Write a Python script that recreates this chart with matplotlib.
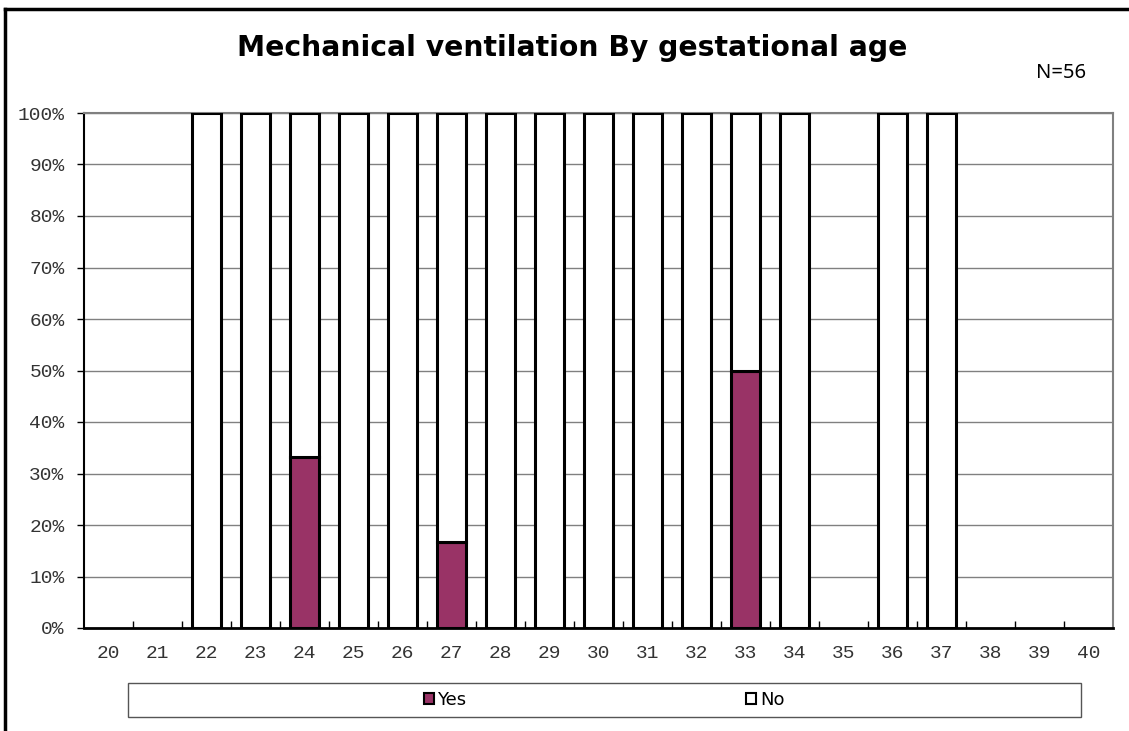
import numpy as np
import matplotlib
matplotlib.use("Agg")
import matplotlib.pyplot as plt
from matplotlib.patches import Patch, Rectangle
from matplotlib.lines import Line2D
from matplotlib.ticker import FuncFormatter, FixedLocator

# --- data (percent of infants per gestational week) ---
ages = [str(a) for a in range(20, 41)]
yes_pct = [0, 0, 0, 0, 33.3, 0, 0, 16.7, 0, 0, 0, 0, 0, 50, 0, 0, 0, 0, 0, 0, 0]
no_pct = [0, 0, 100, 100, 66.7, 100, 100, 83.3, 100, 100, 100, 100, 100, 50, 100, 0, 100, 100, 0, 0, 0]
y_ticks = list(range(0, 101, 10))

YES_COL = "#993366"
MONO = "Liberation Mono"

fig = plt.figure(figsize=(11.29, 7.31), dpi=100)
ax = fig.add_axes([84 / 1129, 1 - 628 / 731, (1113 - 84) / 1129, (628 - 113) / 731])

x = np.arange(len(ages))
yes = np.array(yes_pct, dtype=float)
no = np.array(no_pct, dtype=float)
has = (yes + no) > 0

ax.bar(x[has & (yes > 0)], yes[has & (yes > 0)], width=0.6, color=YES_COL,
       edgecolor="black", linewidth=2.2, zorder=3)
ax.bar(x[has], no[has], bottom=yes[has], width=0.6, color="white",
       edgecolor="black", linewidth=2.2, zorder=3)

ax.set_xlim(-0.5, len(ages) - 0.5)
ax.set_ylim(0, 100)
ax.set_yticks(y_ticks)
ax.yaxis.set_major_formatter(FuncFormatter(lambda v, p: "%d%%" % v))
ax.set_xticks(x)
ax.set_xticklabels(ages)
ax.xaxis.set_minor_locator(FixedLocator(x[:-1] + 0.5))

for lab in ax.get_xticklabels() + ax.get_yticklabels():
    lab.set_fontfamily(MONO)
    lab.set_fontsize(14)
    lab.set_color("#333333")

ax.tick_params(axis="y", direction="out", length=5, width=1, pad=9)
ax.tick_params(axis="x", which="major", length=0, pad=12)
ax.tick_params(axis="x", which="minor", direction="in", length=5, width=1)

ax.grid(axis="y", color="#808080", linewidth=1, zorder=0)
ax.set_axisbelow(True)
for s in ["top", "right"]:
    ax.spines[s].set_color("#808080")
    ax.spines[s].set_linewidth(1.5)
ax.spines["left"].set_color("black")
ax.spines["left"].set_linewidth(1.5)
ax.spines["bottom"].set_color("black")
ax.spines["bottom"].set_linewidth(2)
ax.spines["bottom"].set_zorder(4)

fig.text(572 / 1129, 1 - 48 / 731, "Mechanical ventilation By gestational age",
         ha="center", va="center", fontsize=20.3, fontweight="bold",
         family="DejaVu Sans")
fig.text(1061 / 1129, 1 - 73 / 731, "N=56", ha="center", va="center",
         fontsize=14.5, family="Noto Sans")

# legend box
fig.patches.append(Rectangle((128 / 1129, 1 - 717 / 731), (1081 - 128) / 1129, 34 / 731,
                             transform=fig.transFigure, facecolor="white",
                             edgecolor="#555555", linewidth=1))
handles = [Patch(facecolor=YES_COL, edgecolor="black", linewidth=1.5),
           Patch(facecolor="white", edgecolor="black", linewidth=1.5)]
fig.legend(handles, ["Yes", "No"], loc="center", bbox_to_anchor=(604 / 1129, 1 - 700 / 731),
           ncol=2, frameon=False, handlelength=0.55, handleheight=0.55,
           handletextpad=0.2, columnspacing=15.5, prop={"family": "DejaVu Sans", "size": 13})

# outer chart border (left and top only visible)
fig.add_artist(Line2D([5 / 1129, 5 / 1129], [0, 1 - 9 / 731], color="black", linewidth=2.5,
                      transform=fig.transFigure))
fig.add_artist(Line2D([5 / 1129, 1], [1 - 9 / 731, 1 - 9 / 731], color="black", linewidth=2.5,
                      transform=fig.transFigure))

fig.savefig("out.png", dpi=100)
